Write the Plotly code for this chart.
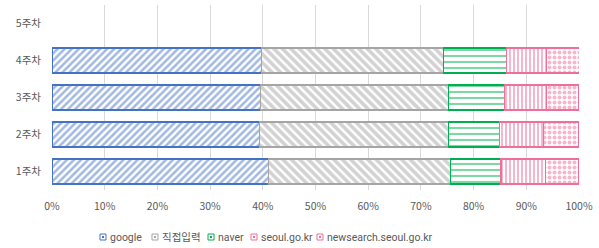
import plotly.graph_objects as go

categories = ["1주차", "2주차", "3주차", "4주차", "5주차"]
series_names = ["google", "직접입력", "naver", "seoul.go.kr", "newsearch.seoul.go.kr"]
google = [41.1, 39.4, 39.5, 39.7, None]
direct = [34.5, 35.8, 35.7, 34.6, None]
naver = [9.6, 9.7, 10.6, 11.9, None]
seoul = [8.4, 8.3, 8.1, 7.6, None]
newsearch = [6.4, 6.8, 6.1, 6.3, None]
x_ticks = [0, 10, 20, 30, 40, 50, 60, 70, 80, 90, 100]
x_ticklabels = [f"{v}%" for v in x_ticks]

values = [google, direct, naver, seoul, newsearch]
colors = ["#4472C4", "#A5A5A5", "#00B050", "#EE7099", "#EE7099"]
shapes = ["/", "\\", "-", "|", "."]
sizes = [5, 6, 6, 4, 5]
solid = [0.5, 0.6, 0.35, 0.5, 0.5]

W, H = 599, 248
ML, MR, MT, MB = 52, 20, 5, 58
PW, PH = W - ML - MR, H - MT - MB

fig = go.Figure()
for name, vals, col, shp, sz, so in zip(series_names, values, colors, shapes, sizes, solid):
    fig.add_trace(go.Bar(
        y=categories, x=vals, name=name, orientation="h", showlegend=False,
        marker=dict(
            color="white",
            line=dict(color=col, width=1.2),
            pattern=dict(shape=shp, fgcolor=col, bgcolor="white",
                         fillmode="overlay", size=sz, solidity=so),
        ),
    ))

# legend drawn as small swatches + labels (pixel layout positions)
legend_text_px = [108, 160, 216, 259, 325]
legend_y_px = 237
for name, col, tx in zip(series_names, colors, legend_text_px):
    x0 = (tx - 8 - ML) / PW
    x1 = (tx - 2 - ML) / PW
    yc = (MT + PH - legend_y_px) / PH
    fig.add_shape(type="rect", xref="paper", yref="paper",
                  x0=x0, x1=x1, y0=yc - 3 / PH, y1=yc + 3 / PH,
                  line=dict(color=col, width=1), fillcolor="rgba(255,255,255,1)")
    fig.add_shape(type="rect", xref="paper", yref="paper",
                  x0=x0 + 2 / PW, x1=x1 - 2 / PW, y0=yc - 1 / PH, y1=yc + 1 / PH,
                  line=dict(width=0), fillcolor=col)
    fig.add_annotation(xref="paper", yref="paper", x=(tx - ML) / PW, y=yc,
                       xanchor="left", yanchor="middle", text=name, showarrow=False,
                       font=dict(family="Roboto, Noto Sans CJK KR, sans-serif",
                                 size=10.5, color="#595959"))

fig.update_layout(
    barmode="stack",
    bargap=0.32,
    width=W, height=H,
    margin=dict(l=ML, r=MR, t=MT, b=MB),
    plot_bgcolor="white", paper_bgcolor="white",
    font=dict(family="Noto Sans CJK KR, Noto Sans, sans-serif", size=10.5, color="#595959"),
    xaxis=dict(range=[0, 100], tickvals=x_ticks, ticktext=x_ticklabels,
               showgrid=True, gridcolor="#D9D9D9", gridwidth=1, zeroline=False,
               ticks="", ticklabelstandoff=8, automargin=False, fixedrange=True),
    yaxis=dict(categoryorder="array", categoryarray=categories, range=[-0.5, 4.5],
               showgrid=False, zeroline=False, ticks="", ticklabelstandoff=10,
               automargin=False, fixedrange=True),
    showlegend=False,
)

fig.write_html("out.html", config={"displayModeBar": False},
               post_script="document.body.style.margin='0px';")
